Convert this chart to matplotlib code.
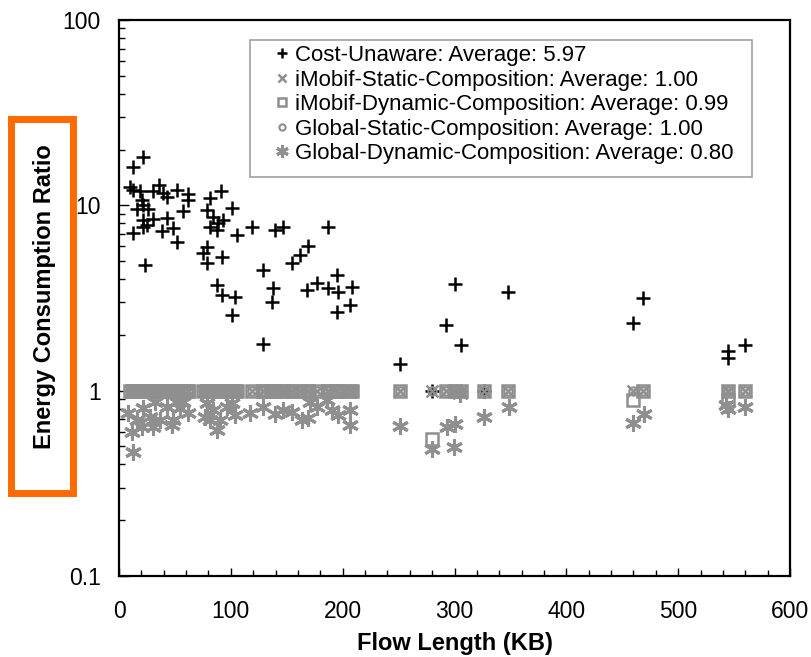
import matplotlib
matplotlib.use("Agg")
import matplotlib.pyplot as plt
from matplotlib.patches import Rectangle
from matplotlib.ticker import MultipleLocator, LogLocator, NullFormatter, FixedLocator

plt.rcParams['font.family'] = ['Liberation Sans', 'DejaVu Sans']

# ---- data ----
cu_kb = [9.8, 12.8, 12.8, 12.8, 15.8, 18.8, 20.3, 21.7, 21.7, 21.7, 21.7, 23.3, 24.8, 26.2,
         30.7, 30.7, 35.0, 36.0, 38.2, 39.6, 42.7, 42.7, 48.6, 51.6, 51.6, 57.5, 62.0, 62.0,
         75.4, 78.4, 78.4, 78.4, 81.4, 81.4, 84.3, 87.4, 87.4, 88.8, 91.2, 91.9, 91.9, 93.3,
         100.8, 100.8, 103.8, 105.3, 118.7, 128.8, 129.1, 136.6, 138.0, 139.5, 147.0, 150.0,
         154.5, 161.9, 167.9, 169.3, 176.8, 187.2, 187.2, 194.7, 194.7, 196.2, 206.6, 208.1,
         251.0, 279.7, 292.5, 300.5, 306.0, 326.5, 348.0, 460.0, 469.0, 545.0, 545.0, 560.0]
cost_unaware = [12.6, 16.1, 12.1, 7.07, 9.53, 11.9, 10.7, 18.2, 10.05, 8.34, 7.62, 4.77, 7.84, 9.53,
                12.0, 8.41, 1.00, 12.9, 7.30, 11.7, 11.1, 8.52, 7.52, 12.1, 6.37, 9.36, 11.5, 10.7,
                5.51, 9.45, 5.99, 4.87, 11.0, 7.67, 8.69, 7.37, 3.72, 8.01, 11.9, 5.29, 3.29, 8.34,
                9.65, 2.56, 3.22, 6.92, 7.67, 1.79, 4.48, 3.02, 3.57, 7.37, 7.62, 1.00,
                4.87, 5.40, 3.49, 6.04, 3.80, 7.62, 3.57, 4.21, 2.67, 3.42, 2.90, 3.64,
                1.39, 1.00, 2.26, 3.77, 1.77, 1.00, 3.42, 2.31, 3.15, 1.64, 1.50, 1.77]
imobif_static = [1.00, 1.00, 1.00, 1.00, 1.00, 1.00, 1.00, 1.00, 1.00, 1.00, 1.00, 1.00, 1.00, 1.00,
                 1.00, 1.00, 1.00, 1.00, 1.00, 1.00, 1.00, 1.00, 1.00, 1.00, 1.00, 1.00, 1.00, 1.00,
                 1.00, 1.00, 1.00, 1.00, 1.00, 1.00, 1.00, 1.00, 1.00, 1.00, 1.00, 1.00, 1.00, 1.00,
                 1.00, 1.00, 1.00, 1.00, 1.00, 1.00, 1.00, 1.00, 1.00, 1.00, 1.00, 1.00,
                 1.00, 1.00, 1.00, 1.00, 1.00, 1.00, 1.00, 1.00, 1.00, 1.00, 1.00, 1.00,
                 1.00, 1.00, 1.00, 1.00, 1.00, 1.00, 1.00, 1.00, 1.00, 1.00, 1.00, 1.00]
imobif_dynamic = [1.00, 1.00, 1.00, 1.00, 1.00, 1.00, 1.00, 1.00, 1.00, 1.00, 1.00, 1.00, 1.00, 1.00,
                  1.00, 1.00, 1.00, 1.00, 1.00, 1.00, 1.00, 1.00, 1.00, 1.00, 1.00, 1.00, 1.00, 1.00,
                  1.00, 1.00, 1.00, 1.00, 1.00, 1.00, 1.00, 1.00, 1.00, 1.00, 1.00, 1.00, 1.00, 1.00,
                  1.00, 1.00, 1.00, 1.00, 1.00, 1.00, 1.00, 1.00, 1.00, 1.00, 1.00, 1.00,
                  1.00, 1.00, 1.00, 1.00, 1.00, 1.00, 1.00, 1.00, 1.00, 1.00, 1.00, 1.00,
                  1.00, 0.55, 1.00, 1.00, 1.00, 1.00, 1.00, 0.89, 1.00, 0.89, 1.00, 1.00]
global_static = [1.00, 1.00, 1.00, 1.00, 1.00, 1.00, 1.00, 1.00, 1.00, 1.00, 1.00, 1.00, 1.00, 1.00,
                 1.00, 1.00, 1.00, 1.00, 1.00, 1.00, 1.00, 1.00, 1.00, 1.00, 1.00, 1.00, 1.00, 1.00,
                 1.00, 1.00, 1.00, 1.00, 1.00, 1.00, 1.00, 1.00, 1.00, 1.00, 1.00, 1.00, 1.00, 1.00,
                 1.00, 1.00, 1.00, 1.00, 1.00, 1.00, 1.00, 1.00, 1.00, 1.00, 1.00, 1.00,
                 1.00, 1.00, 1.00, 1.00, 1.00, 1.00, 1.00, 1.00, 1.00, 1.00, 1.00, 1.00,
                 1.00, 1.00, 1.00, 1.00, 1.00, 1.00, 1.00, 1.00, 1.00, 1.00, 1.00, 1.00]
gdc_kb = [8.3, 11.4, 12.8, 15.8, 20.3, 21.7, 27.7, 30.7, 32.2, 36.7, 42.7, 47.1, 48.6, 51.6,
          54.6, 57.5, 62.0, 77.0, 78.4, 81.4, 84.3, 87.4, 90.3, 96.3, 100.8, 103.8, 117.2,
          129.1, 139.5, 147.0, 154.5, 163.4, 169.3, 170.8, 176.8, 185.8, 190.3, 196.2, 206.6,
          206.6, 251.3, 279.7, 293.1, 299.6, 300.5, 305.0, 326.5, 348.8, 459.5, 469.6, 543.0,
          545.0, 560.0]
global_dynamic = [0.755, 0.600, 0.469, 0.695, 0.639, 0.804, 0.724, 0.639, 0.872, 0.695, 0.820,
                  0.653, 0.695, 0.872, 0.804, 0.872, 0.755, 0.724, 0.855, 0.695, 0.787, 0.613,
                  0.695, 0.820, 0.855, 0.740, 0.755, 0.813, 0.749, 0.787, 0.770, 0.695, 0.710,
                  0.872, 0.820, 0.890, 0.787, 0.740, 0.787, 0.653, 0.645, 0.483, 0.634, 0.499,
                  0.661, 0.960, 0.719, 0.814, 0.672, 0.749, 0.837, 0.794, 0.820]
labels = ["Cost-Unaware: Average: 5.97",
          "iMobif-Static-Composition: Average: 1.00",
          "iMobif-Dynamic-Composition: Average: 0.99",
          "Global-Static-Composition: Average: 1.00",
          "Global-Dynamic-Composition: Average: 0.80"]
x_ticks = [0, 100, 200, 300, 400, 500, 600]
y_ticks = [0.1, 1, 10, 100]
y_ticklabels = ["0.1", "1", "10", "100"]

GRAY = "#8f8f8f"
W, H = 811, 657

fig = plt.figure(figsize=(W/100, H/100), dpi=100)
ax = fig.add_axes([119/W, 1-576/H, 671/W, 556/H])

ax.plot(cu_kb, cost_unaware, linestyle='none', marker='+', color='black',
        markersize=10, markeredgewidth=1.8, label=labels[0])
ax.plot(cu_kb, imobif_static, linestyle='none', marker='x', color=GRAY,
        markersize=8, markeredgewidth=1.8, label=labels[1])
ax.plot(cu_kb, imobif_dynamic, linestyle='none', marker='s', color=GRAY,
        markerfacecolor='none', markersize=8, markeredgewidth=1.8, label=labels[2])
ax.plot(cu_kb, global_static, linestyle='none', marker='o', color=GRAY,
        markerfacecolor='none', markersize=6, markeredgewidth=1.5, label=labels[3])
ax.plot(gdc_kb, global_dynamic, linestyle='none', marker=(6, 2, 0), color=GRAY,
        markersize=12, markeredgewidth=2.2, label=labels[4])

ax.set_yscale('log')
ax.set_xlim(0, 600)
ax.set_ylim(0.1, 100)
ax.xaxis.set_major_locator(FixedLocator(x_ticks))
ax.xaxis.set_minor_locator(MultipleLocator(20))
ax.yaxis.set_major_locator(FixedLocator(y_ticks))
ax.set_yticklabels(y_ticklabels)
ax.yaxis.set_minor_locator(LogLocator(base=10, subs=[2, 3, 4, 5, 6, 7, 8, 9]))
ax.yaxis.set_minor_formatter(NullFormatter())

for s in ax.spines.values():
    s.set_linewidth(1.6)
ax.tick_params(which='both', direction='in', top=False, right=False, labelsize=16.5)
ax.tick_params(axis='x', which='major', length=6, width=1, pad=17)
ax.tick_params(axis='x', which='minor', length=4, width=1)
ax.tick_params(axis='y', which='major', length=7, width=1, pad=13)
ax.tick_params(axis='y', which='minor', length=4, width=1)

ax.set_xlabel("Flow Length (KB)", fontsize=17, fontweight='bold', labelpad=7)
fig.text(45/W, 1-297/H, "Energy Consumption Ratio", fontsize=17, fontweight='bold',
         rotation=90, ha='center', va='center')

fig.patches.append(Rectangle((10.5/W, 1-493/H), 62/W, 374/H,
                             transform=fig.transFigure, fill=False,
                             edgecolor='#ff6a00', linewidth=5))

# legend frame drawn as a patch in the axes (below the legend), legend itself frameless
ax.add_patch(Rectangle((250/W, 1-177/H), 502/W, 137/H,
                       transform=fig.transFigure, fill=True, facecolor='white',
                       edgecolor='#a0a0a0', linewidth=1.2, zorder=4.5, clip_on=False))
leg = ax.legend(loc='upper left', bbox_to_anchor=(275/W, 1-45/H),
                bbox_transform=fig.transFigure, frameon=False,
                borderaxespad=0, borderpad=0, fontsize=16, markerscale=0.75,
                handlelength=0.6, handletextpad=0.3, labelspacing=0.16)
leg.set_zorder(6)

fig.savefig("out.png", dpi=100)
